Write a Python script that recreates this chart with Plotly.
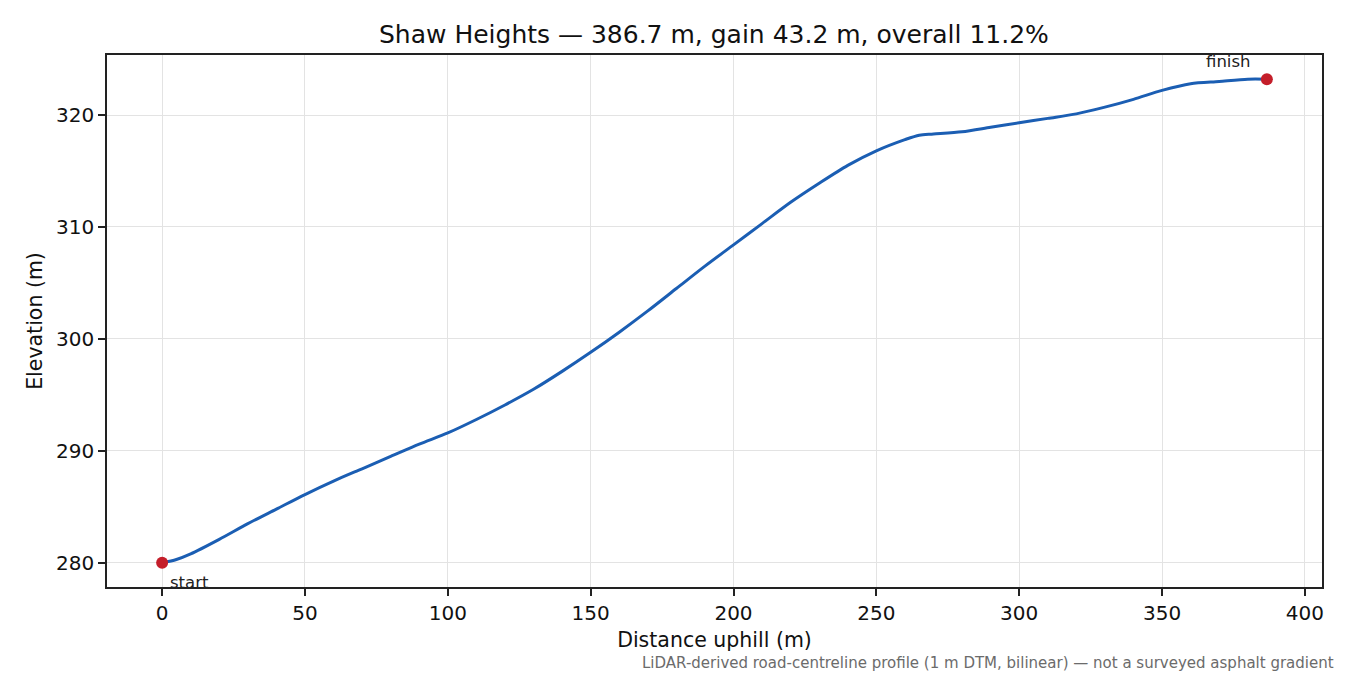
import plotly.graph_objects as go

# distance uphill (m) and elevation (m)
distance = [0, 5, 10, 20, 30, 40, 50, 60, 70, 80, 90, 100, 110, 120, 130, 140,
            150, 160, 170, 180, 190, 200, 210, 220, 230, 240, 250, 260, 265,
            270, 280, 290, 300, 310, 320, 330, 340, 350, 360, 370, 380, 386.7]
elevation = [280.0, 280.3, 280.8, 282.1, 283.5, 284.8, 286.1, 287.3, 288.4,
             289.5, 290.6, 291.6, 292.8, 294.1, 295.5, 297.1, 298.8, 300.6,
             302.5, 304.5, 306.5, 308.4, 310.3, 312.2, 313.9, 315.5, 316.8,
             317.8, 318.2, 318.3, 318.5, 318.9, 319.3, 319.7, 320.1, 320.7,
             321.4, 322.2, 322.8, 323.0, 323.2, 323.2]

title = "Shaw Heights — 386.7 m, gain 43.2 m, overall 11.2%"
footnote = "LiDAR-derived road-centreline profile (1 m DTM, bilinear) — not a surveyed asphalt gradient"

font = "DejaVu Sans, sans-serif"

fig = go.Figure()

fig.add_trace(go.Scatter(
    x=distance, y=elevation, mode="lines",
    line=dict(color="#1b5eb3", width=3, shape="spline", smoothing=0.8),
    showlegend=False, hoverinfo="x+y",
))

# start / finish markers
fig.add_trace(go.Scatter(
    x=[distance[0], distance[-1]], y=[elevation[0], elevation[-1]],
    mode="markers", marker=dict(color="#c41e2a", size=12),
    showlegend=False,
))

fig.add_annotation(x=distance[0], y=elevation[0], text="start", showarrow=False,
                   xanchor="left", yanchor="top", xshift=6, yshift=-8,
                   font=dict(family=font, size=16.5, color="#222"))
fig.add_annotation(x=distance[-1], y=elevation[-1], text="finish", showarrow=False,
                   xanchor="right", yanchor="bottom", xshift=-14, yshift=6,
                   font=dict(family=font, size=16.5, color="#222"))

fig.add_annotation(xref="paper", yref="paper", x=1.0115, y=-0.122, text=footnote,
                   showarrow=False, xanchor="right", yanchor="top",
                   font=dict(family=font, size=15, color="#6b6b6b"))

axis_common = dict(
    showline=True, linecolor="#222", linewidth=1.6, mirror=True,
    ticks="outside", ticklen=7, tickwidth=1.5, tickcolor="#222",
    showgrid=True, gridcolor="#e3e3e3", gridwidth=1.4, zeroline=False,
    tickfont=dict(family=font, size=20, color="#111"),
)

fig.update_xaxes(range=[-19.3, 406.0], tickvals=[0, 50, 100, 150, 200, 250, 300, 350, 400],
                 title=dict(text="Distance uphill (m)", font=dict(family=font, size=20.5, color="#111"),
                            standoff=9),
                 **axis_common)
fig.update_yaxes(range=[277.84, 325.36], tickvals=[280, 290, 300, 310, 320],
                 title=dict(text="Elevation (m)", font=dict(family=font, size=20.5, color="#111"),
                            standoff=8),
                 **axis_common)

# the page body adds an 8px offset, so the figure is a little smaller than the window
fig.update_layout(
    width=1342, height=667,
    margin=dict(l=99, r=28, t=47, b=88),
    paper_bgcolor="white", plot_bgcolor="white",
    title=dict(text=title, x=0.526, xanchor="center", y=0.961, yanchor="middle",
               font=dict(family=font, size=25, color="#111")),
    font=dict(family=font),
)

fig.write_html("out.html")
